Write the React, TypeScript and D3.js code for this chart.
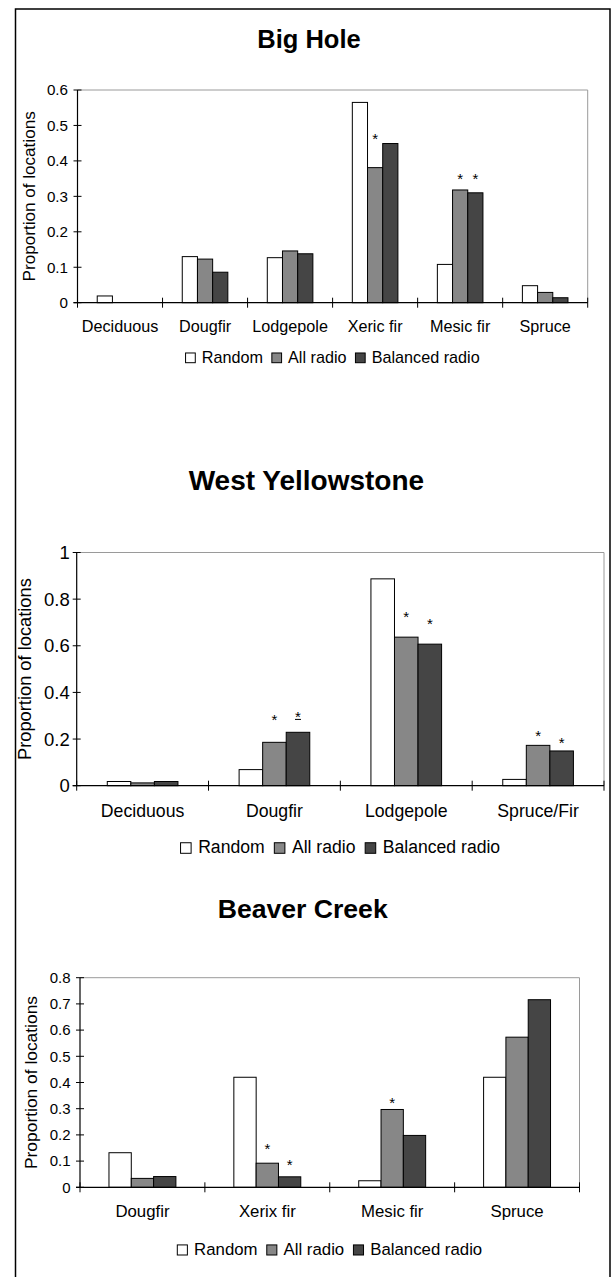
import React from 'react';
import * as d3 from 'd3';

const SERIES = ['Random', 'All radio', 'Balanced radio'];
const SERIES_FILLS = ['#ffffff', '#878787', '#454545'];

// Big Hole
const bigHoleCategories = ['Deciduous', 'Dougfir', 'Lodgepole', 'Xeric fir', 'Mesic fir', 'Spruce'];
const bigHoleRandom = [0.019, 0.13, 0.127, 0.565, 0.108, 0.048];
const bigHoleAllRadio = [0, 0.123, 0.146, 0.381, 0.318, 0.029];
const bigHoleBalanced = [0, 0.086, 0.138, 0.449, 0.31, 0.014];
const bigHoleTicks = [0, 0.1, 0.2, 0.3, 0.4, 0.5, 0.6];
const bigHoleStars = [
  { category: 'Xeric fir', series: 1, value: 0.473, underline: false },
  { category: 'Mesic fir', series: 1, value: 0.36, underline: false },
  { category: 'Mesic fir', series: 2, value: 0.36, underline: false },
];

// West Yellowstone
const westYellowstoneCategories = ['Deciduous', 'Dougfir', 'Lodgepole', 'Spruce/Fir'];
const westYellowstoneRandom = [0.018, 0.069, 0.887, 0.027];
const westYellowstoneAllRadio = [0.012, 0.186, 0.637, 0.173];
const westYellowstoneBalanced = [0.018, 0.229, 0.607, 0.149];
const westYellowstoneTicks = [0, 0.2, 0.4, 0.6, 0.8, 1];
const westYellowstoneStars = [
  { category: 'Dougfir', series: 1, value: 0.296, underline: false },
  { category: 'Dougfir', series: 2, value: 0.31, underline: true },
  { category: 'Lodgepole', series: 1, value: 0.74, underline: false },
  { category: 'Lodgepole', series: 2, value: 0.71, underline: false },
  { category: 'Spruce/Fir', series: 1, value: 0.23, underline: false },
  { category: 'Spruce/Fir', series: 2, value: 0.196, underline: false },
];

// Beaver Creek
const beaverCreekCategories = ['Dougfir', 'Xerix fir', 'Mesic fir', 'Spruce'];
const beaverCreekRandom = [0.132, 0.42, 0.025, 0.42];
const beaverCreekAllRadio = [0.034, 0.092, 0.297, 0.573];
const beaverCreekBalanced = [0.041, 0.04, 0.198, 0.716];
const beaverCreekTicks = [0, 0.1, 0.2, 0.3, 0.4, 0.5, 0.6, 0.7, 0.8];
const beaverCreekStars = [
  { category: 'Xerix fir', series: 1, value: 0.158, underline: false },
  { category: 'Xerix fir', series: 2, value: 0.097, underline: false },
  { category: 'Mesic fir', series: 1, value: 0.337, underline: false },
];

const FONT = '"Liberation Sans", Arial, Helvetica, sans-serif';

let measureCtx: CanvasRenderingContext2D | null = null;
function measure(text: string, size: number, weight = 'normal') {
  if (!measureCtx) {
    const c = document.createElement('canvas');
    measureCtx = c.getContext('2d');
  }
  if (!measureCtx) return text.length * size * 0.55;
  measureCtx.font = `${weight} ${size}px ${FONT}`;
  return measureCtx.measureText(text).width;
}

const charts = [
  {
    title: 'Big Hole',
    categories: bigHoleCategories,
    values: [bigHoleRandom, bigHoleAllRadio, bigHoleBalanced],
    ticks: bigHoleTicks,
    stars: bigHoleStars,
    yMax: 0.6,
    left: 77.5, right: 587.7, top: 90, bottom: 302.7,
    titleX: 309, titleY: 48.3, titleSize: 25.5,
    labelSize: 16.2, tickSize: 15.2, tickGap: 9.5, yTitleSize: 17.1, yTitleX: 35,
    xLabelOffset: 29.6, legendY: 362.7, legendSize: 16.2,
  },
  {
    title: 'West Yellowstone',
    categories: westYellowstoneCategories,
    values: [westYellowstoneRandom, westYellowstoneAllRadio, westYellowstoneBalanced],
    ticks: westYellowstoneTicks,
    stars: westYellowstoneStars,
    yMax: 1,
    left: 76.7, right: 604, top: 552.5, bottom: 785.7,
    titleX: 306.4, titleY: 490, titleSize: 28,
    labelSize: 17.7, tickSize: 18.5, tickGap: 7, yTitleSize: 18.3, yTitleX: 30.5,
    xLabelOffset: 31, legendY: 853.3, legendSize: 17.6,
  },
  {
    title: 'Beaver Creek',
    categories: beaverCreekCategories,
    values: [beaverCreekRandom, beaverCreekAllRadio, beaverCreekBalanced],
    ticks: beaverCreekTicks,
    stars: beaverCreekStars,
    yMax: 0.8,
    left: 80, right: 579.5, top: 977.7, bottom: 1187.3,
    titleX: 302.7, titleY: 918.3, titleSize: 26.6,
    labelSize: 16.8, tickSize: 15, tickGap: 9.5, yTitleSize: 17.4, yTitleX: 36.5,
    xLabelOffset: 29.4, legendY: 1255, legendSize: 16.8,
  },
];

function fmtTick(t: number) {
  return String(+t.toFixed(1));
}

function Chart({ cfg }: { cfg: any }) {
  const x0 = d3.scaleBand<string>().domain(cfg.categories).range([cfg.left, cfg.right]).paddingInner(0).paddingOuter(0);
  const bw = x0.bandwidth();
  const groupW = bw * 0.536;
  const x1 = d3.scaleBand<string>().domain(SERIES).range([(bw - groupW) / 2, (bw + groupW) / 2]).padding(0);
  const y = d3.scaleLinear().domain([0, cfg.yMax]).range([cfg.bottom, cfg.top]);

  const boundaries = cfg.categories.map((c: string) => x0(c) as number).concat([cfg.right]);

  // legend layout
  const sq = cfg.legendSize * 0.6;
  const gapAfterSq = cfg.legendSize * 0.4;
  const gapAfterText = cfg.legendSize * 0.55;
  const widths = SERIES.map((s) => measure(s, cfg.legendSize));
  const total = widths.reduce((a, w) => a + sq + gapAfterSq + w, 0) + gapAfterText * (SERIES.length - 1);
  let lx = (cfg.left + cfg.right) / 2 - total / 2;
  const legendItems = SERIES.map((s, i) => {
    const item = { s, i, x: lx };
    lx += sq + gapAfterSq + widths[i] + gapAfterText;
    return item;
  });

  const midY = (cfg.top + cfg.bottom) / 2;

  return (
    <g fontFamily={FONT} fill="#000">
      <text x={cfg.titleX} y={cfg.titleY} textAnchor="middle" fontWeight="bold" fontSize={cfg.titleSize}>
        {cfg.title}
      </text>
      {/* plot frame top/right */}
      <path
        d={`M${cfg.left},${cfg.top}H${cfg.right}V${cfg.bottom}`}
        fill="none"
        stroke="#9a9a9a"
        strokeWidth={1}
      />
      {/* bars */}
      {cfg.values.map((arr: number[], si: number) =>
        arr.map((v: number, ci: number) => {
          if (v <= 0) return null;
          const cat = cfg.categories[ci];
          const bx = (x0(cat) as number) + (x1(SERIES[si]) as number);
          return (
            <rect
              key={`b-${si}-${ci}`}
              x={bx}
              y={y(v)}
              width={x1.bandwidth()}
              height={cfg.bottom - y(v)}
              fill={SERIES_FILLS[si]}
              stroke="#000"
              strokeWidth={1}
            />
          );
        })
      )}
      {/* y axis */}
      <line x1={cfg.left} x2={cfg.left} y1={cfg.top} y2={cfg.bottom} stroke="#000" strokeWidth={1.2} />
      {cfg.ticks.map((t: number) => (
        <g key={`yt-${t}`}>
          <line x1={cfg.left - 4} x2={cfg.left + 4} y1={y(t)} y2={y(t)} stroke="#000" strokeWidth={1} />
          <text
            x={cfg.left - cfg.tickGap}
            y={y(t) + cfg.tickSize * 0.35}
            textAnchor="end"
            fontSize={cfg.tickSize}
          >
            {fmtTick(t)}
          </text>
        </g>
      ))}
      {/* x axis */}
      <line x1={cfg.left - 4} x2={cfg.right} y1={cfg.bottom} y2={cfg.bottom} stroke="#000" strokeWidth={1.2} />
      {boundaries.map((bx: number, i: number) => (
        <line key={`xt-${i}`} x1={bx} x2={bx} y1={cfg.bottom - 5} y2={cfg.bottom + 5} stroke="#000" strokeWidth={1} />
      ))}
      {cfg.categories.map((c: string) => (
        <text
          key={`xl-${c}`}
          x={(x0(c) as number) + bw / 2}
          y={cfg.bottom + cfg.xLabelOffset}
          textAnchor="middle"
          fontSize={cfg.labelSize}
        >
          {c}
        </text>
      ))}
      {/* y title */}
      <text
        transform={`translate(${cfg.yTitleX},${midY}) rotate(-90)`}
        textAnchor="middle"
        fontSize={cfg.yTitleSize}
      >
        Proportion of locations
      </text>
      {/* stars */}
      {cfg.stars.map((st: any, i: number) => {
        const cx = (x0(st.category) as number) + (x1(SERIES[st.series]) as number) + x1.bandwidth() / 2;
        const cy = y(st.value);
        return (
          <g key={`st-${i}`}>
            <text x={cx} y={cy + 8.5} textAnchor="middle" fontSize={15}>
              *
            </text>
            {st.underline ? (
              <line x1={cx - 3} x2={cx + 3} y1={cy + 6} y2={cy + 6} stroke="#000" strokeWidth={1} />
            ) : null}
          </g>
        );
      })}
      {/* legend */}
      {legendItems.map((it) => (
        <g key={`lg-${it.s}`}>
          <rect
            x={it.x}
            y={cfg.legendY - sq}
            width={sq}
            height={sq}
            fill={SERIES_FILLS[it.i]}
            stroke="#000"
            strokeWidth={1}
          />
          <text x={it.x + sq + gapAfterSq} y={cfg.legendY} fontSize={cfg.legendSize}>
            {it.s}
          </text>
        </g>
      ))}
    </g>
  );
}

export default function App() {
  return (
    <svg
      width={612}
      height={1277}
      viewBox="0 0 612 1277"
      style={{ position: 'absolute', left: 0, top: 0, background: '#fff' }}
    >
      <rect x={0} y={0} width={612} height={1277} fill="#fff" />
      <path d="M15.5,1277V9H610V1277" fill="none" stroke="#000" strokeWidth={1.5} />
      {charts.map((c) => (
        <Chart key={c.title} cfg={c} />
      ))}
    </svg>
  );
}
